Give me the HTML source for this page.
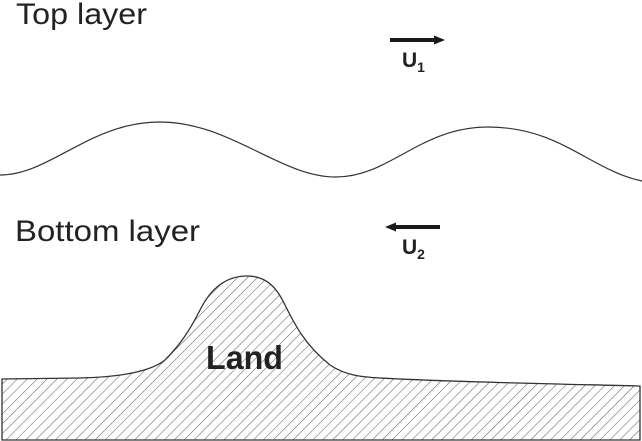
<!DOCTYPE html>
<html><head><meta charset="utf-8"><style>html,body{margin:0;padding:0;background:#fff}svg{display:block}</style></head>
<body>
<svg width="642" height="441" viewBox="0 0 642 441" xmlns="http://www.w3.org/2000/svg">
<defs>
<pattern id="h" patternUnits="userSpaceOnUse" width="7" height="7" patternTransform="rotate(45)">
<line x1="0" y1="0" x2="0" y2="7" stroke="#666" stroke-width="1.1"/>
</pattern>
</defs>
<g font-family="Liberation Sans, Arial, sans-serif" fill="#222">
<text x="16" y="24" font-size="30" textLength="131" lengthAdjust="spacingAndGlyphs">Top layer</text>
<text x="15" y="241" font-size="30" textLength="185" lengthAdjust="spacingAndGlyphs">Bottom layer</text>
<text x="402" y="67" font-size="21" font-weight="bold">U<tspan font-size="14" dy="5">1</tspan></text>
<text x="402" y="254" font-size="21" font-weight="bold">U<tspan font-size="14" dy="5">2</tspan></text>
</g>
<path d="M0,175 C50,175 90,122 160,122 C230,122 280,177 336,177 C390,177 420,127 488,127 C560,127 590,170 642,181" fill="none" stroke="#333" stroke-width="1.2"/>
<line x1="390" y1="40" x2="436" y2="40" stroke="#1a1a1a" stroke-width="4"/>
<polygon points="434,35.5 445,40 434,44.5" fill="#1a1a1a"/>
<line x1="440" y1="227" x2="394" y2="227" stroke="#1a1a1a" stroke-width="4"/>
<polygon points="396,222.5 385,227 396,231.5" fill="#1a1a1a"/>
<path d="M2,379 L80,378 C120,377 150,372 165,360 C180,345 190,330 200,310 C210,290 225,276 247,276 C268,276 278,290 285,305 C295,325 305,345 330,365 C345,375 360,377 380,378 C450,382 560,384 640,386 L640,440 L2,440 Z" fill="url(#h)" stroke="#333" stroke-width="1.3"/>
<text x="206" y="369" font-family="Liberation Sans, Arial, sans-serif" font-size="33" font-weight="bold" fill="#222" textLength="77" lengthAdjust="spacingAndGlyphs">Land</text>
</svg>
</body></html>
